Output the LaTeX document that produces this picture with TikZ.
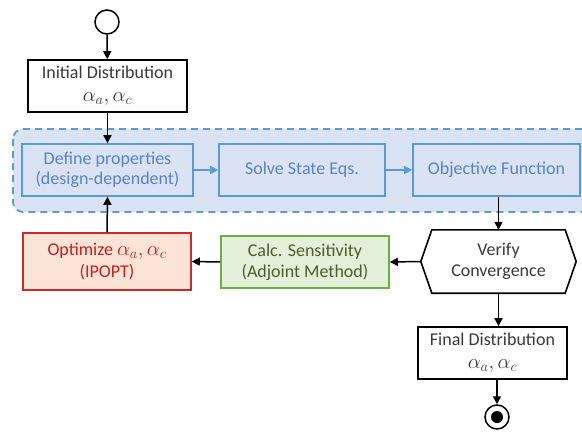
\documentclass[tikz,border=0pt]{standalone}
\usepackage{fontspec}
\setmainfont{Carlito}
\usetikzlibrary{arrows.meta}
\definecolor{bline}{HTML}{5B9BD5}
\definecolor{bfill}{HTML}{DAE3F3}
\definecolor{btext}{HTML}{5A82C8}
\definecolor{rline}{HTML}{D02828}
\definecolor{rfill}{HTML}{FBE3D6}
\definecolor{rtext}{HTML}{C81E1E}
\definecolor{gline}{HTML}{70AD47}
\definecolor{gfill}{HTML}{E2F0D9}
\definecolor{gtext}{HTML}{4F5A2E}
\definecolor{ktext}{HTML}{3A3A3A}
\newcommand{\alphas}{{\fontsize{21}{22}\selectfont$\alpha_a,\alpha_c$}}
\tikzset{
  box/.style={draw=black, line width=1.6pt, fill=white, inner sep=0pt, align=center,
    font=\fontsize{18}{23}\selectfont, text=ktext},
  bluebox/.style={draw=bline, line width=1.6pt, fill=bfill, inner sep=0pt, align=center,
    font=\fontsize{18}{20}\selectfont, text=btext, minimum height=52pt},
  redbox/.style={draw=rline, line width=1.6pt, fill=rfill, inner sep=0pt, align=center,
    font=\fontsize{18}{22}\selectfont, text=rtext},
  greenbox/.style={draw=gline, line width=1.6pt, fill=gfill, inner sep=0pt, align=center,
    font=\fontsize{18}{21}\selectfont, text=gtext},
  karrow/.style={line width=1.5pt, -{Triangle[length=8pt,width=8pt]}},
  barrow/.style={line width=1.5pt, draw=bline, -{Triangle[length=8pt,width=8pt]}, color=bline},
  region/.style={draw=bline, fill=bfill, line width=1.8pt, dash pattern=on 7pt off 5pt, rounded corners=10pt},
}
\begin{document}
\begin{tikzpicture}[x=1pt,y=-1pt]
\useasboundingbox (0,0) rectangle (582,432);
\clip (0,0) rectangle (582,432);
% region
\draw[region] (13,129) rectangle (610,212);
% start
\node[circle, draw=black, line width=1.5pt, fill=white, minimum size=24pt, inner sep=0pt] (start) at (107,22) {};
\node[box, minimum width=159pt, minimum height=52pt] (init) at (107.5,86) {Initial Distribution\\\alphas};
\node[bluebox, minimum width=171pt] (def) at (107.5,170) {Define properties\\(design-dependent)};
\node[bluebox, minimum width=166pt] (sol) at (302,170) {Solve State Eqs.};
\node[bluebox, minimum width=167pt] (obj) at (496.5,170) {Objective Function};
\node[redbox, minimum width=168pt, minimum height=57pt] (opt) at (107,261.5) {Optimize \alphas\\(IPOPT)};
\node[greenbox, minimum width=168pt, minimum height=52pt] (calc) at (305,262) {Calc. Sensitivity\\(Adjoint Method)};
\node[inner sep=0pt, minimum width=155pt, minimum height=63pt, align=center,
  font=\fontsize{18}{21}\selectfont, text=ktext] (ver) at (498.5,261.5) {Verify\\Convergence};
\draw[line width=1.6pt] ([xshift=11pt]ver.north west) -- ([xshift=-11pt]ver.north east) -- (ver.east)
  -- ([xshift=-11pt]ver.south east) -- ([xshift=11pt]ver.south west) -- (ver.west) -- cycle;
\node[box, minimum width=149pt, minimum height=52pt] (fin) at (492.5,353) {Final Distribution\\\alphas};
\node[circle, draw=black, line width=1.5pt, fill=white, minimum size=24pt, inner sep=0pt] (end) at (497,417) {};
\node[circle, fill=black, minimum size=12pt, inner sep=0pt] (endin) at (end.center) {};
% connectors
\draw[karrow] (start) -- (init);
\draw[karrow] (init.south) -- (def.north);
\draw[barrow] (def) -- (sol);
\draw[barrow] (sol) -- (obj);
\draw[karrow] (obj.south -| ver.north) -- (ver.north);
\draw[karrow] (ver.west) -- (calc.east);
\draw[karrow] (calc.west) -- (opt.east);
\draw[karrow] (opt.north) -- (def.south);
\draw[karrow] (ver.south) -- (ver.south |- fin.north);
\draw[karrow] (fin.south -| end.north) -- (end.north);
\end{tikzpicture}
\end{document}
